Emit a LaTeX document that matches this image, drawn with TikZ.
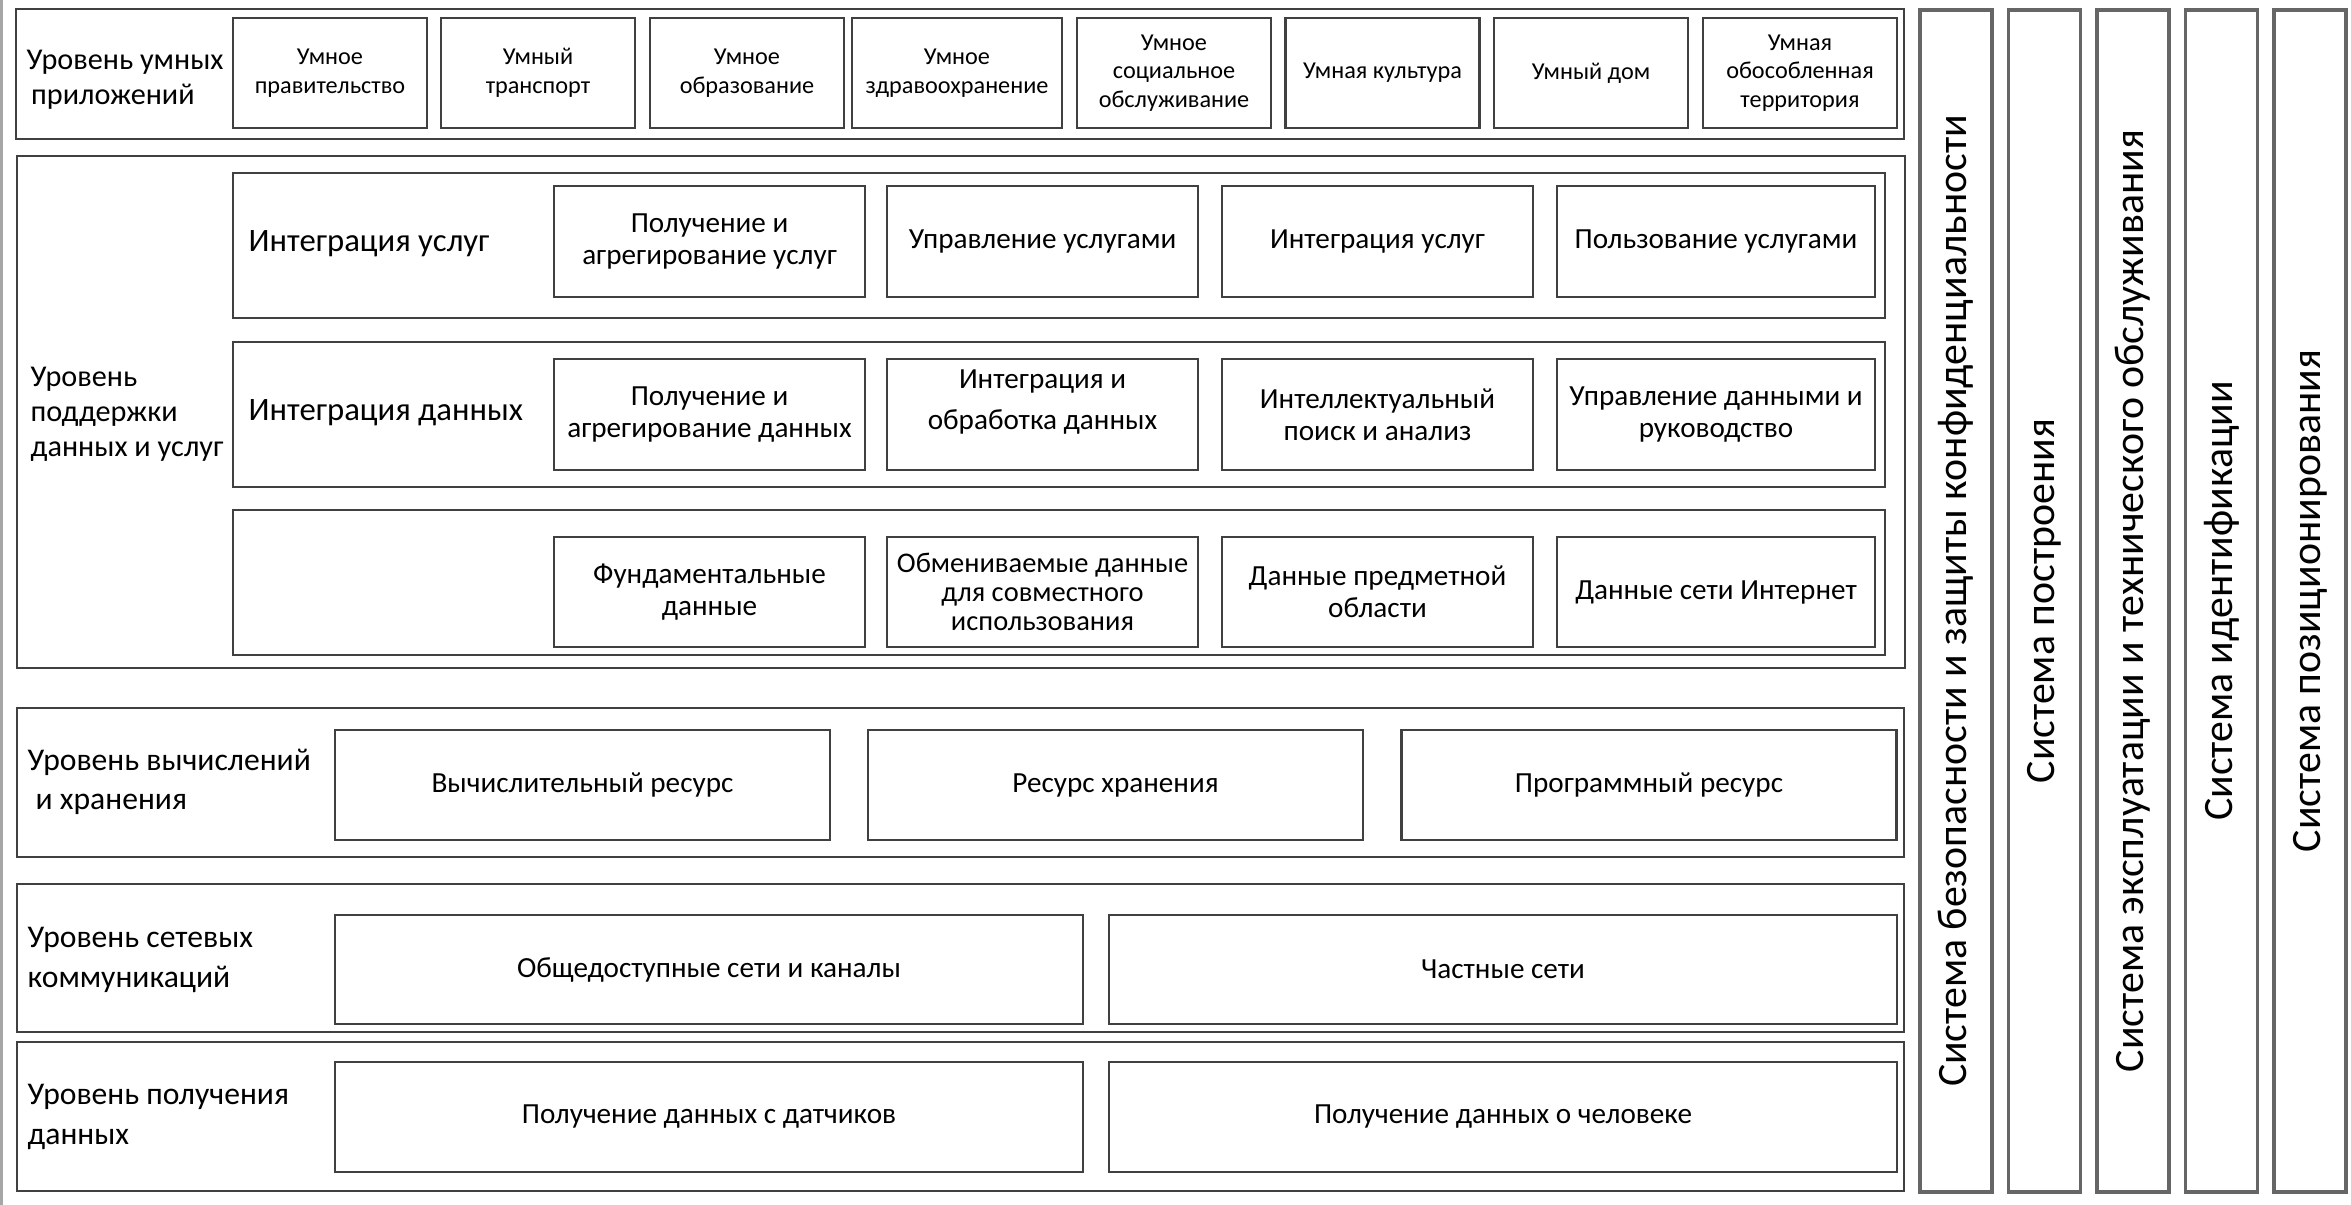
\documentclass[tikz,border=0pt]{standalone}
\usepackage{fontspec}
\setmainfont{Carlito}
\usepackage{tikz}

\begin{document}
\begin{tikzpicture}[
		layer/.style={draw=black!75, line width=0.7pt, inner sep=0pt},
		cell/.style={draw=black!75, line width=0.7pt, inner sep=0pt, align=center, font=\fontsize{8.3}{9.2}\selectfont},
		appcell/.style={cell, minimum width=1.94cm, minimum height=1.10cm, font=\fontsize{6.9}{8.1}\selectfont},
		supcell/.style={cell, minimum width=3.11cm, minimum height=1.11cm},
		lvltext/.style={anchor=west, align=left, inner sep=0pt, font=\fontsize{9}{11.3}\selectfont},
		rowtext/.style={anchor=west, inner sep=0pt, font=\fontsize{9.3}{11}\selectfont},
		sysbar/.style={draw=black!60, line width=0.9pt, inner sep=0pt, rotate=90, minimum width=11.82cm, minimum height=0.72cm, font=\fontsize{11.9}{13}\selectfont}
	]
		\useasboundingbox (0,0) rectangle (23.51,-12.05);
		\draw[gray!70, line width=0.9pt] (0.015,0) -- (0.015,-12.05);

		% smart applications
		\node[layer, minimum width=18.88cm, minimum height=1.30cm] (apps) at (9.60,-0.74) {};
		\node[lvltext, font=\fontsize{8.6}{9.9}\selectfont] (appsname) at (0.26,-0.80) {Уровень умных\\\hspace*{0.15em}приложений};
		\node[appcell] (gov) at (3.30,-0.73) {Умное\\правительство};
		\node[appcell] (transport) at (5.38,-0.73) {Умный\\транспорт};
		\node[appcell] (edu) at (7.47,-0.73) {Умное\\образование};
		\node[appcell, minimum width=2.10cm] (health) at (9.57,-0.73) {Умное\\здравоохранение};
		\node[appcell] (social) at (11.74,-0.73) {Умное\\социальное\\обслуживание};
		\node[appcell] (culture) at (13.825,-0.73) {Умная культура};
		\node[appcell] (home) at (15.91,-0.73) {Умный дом};
		\node[appcell] (area) at (18.00,-0.73) {Умная\\обособленная\\территория};

		% data and services support
		\node[layer, minimum width=18.88cm, minimum height=5.12cm] (support) at (9.61,-4.12) {};
		\node[lvltext, font=\fontsize{8.6}{10}\selectfont] (supportname) at (0.30,-4.14) {Уровень\\поддержки\\данных и услуг};

		\node[layer, minimum width=16.52cm, minimum height=1.45cm] (svcrow) at (10.59,-2.455) {};
		\node[rowtext] (svcname) at (2.48,-2.44) {Интеграция услуг};
		\node[supcell] (svcget) at (7.095,-2.415) {Получение и\\агрегирование услуг};
		\node[supcell] (svcmgmt) at (10.425,-2.415) {Управление услугами};
		\node[supcell] (svcint) at (13.775,-2.415) {Интеграция услуг};
		\node[supcell, minimum width=3.18cm] (svcuse) at (17.16,-2.415) {Пользование услугами};

		\node[layer, minimum width=16.52cm, minimum height=1.45cm] (datarow) at (10.59,-4.145) {};
		\node[rowtext] (dataname) at (2.48,-4.13) {Интеграция данных};
		\node[supcell] (dataget) at (7.095,-4.145) {Получение и\\агрегирование данных};
		\node[supcell] (dataproc) at (10.425,-4.145) {};
		\node[align=center, inner sep=0pt, font=\fontsize{8.3}{11.5}\selectfont] (dataproctext) at (10.425,-4.02) {Интеграция и\\обработка данных};
		\node[supcell] (datasearch) at (13.775,-4.145) {Интеллектуальный\\поиск и анализ};
		\node[supcell, minimum width=3.18cm] (datamgmt) at (17.16,-4.145) {Управление данными и\\руководство};

		\node[layer, minimum width=16.52cm, minimum height=1.45cm] (baserow) at (10.59,-5.825) {};
		\node[supcell, minimum height=1.10cm] (basic) at (7.095,-5.92) {Фундаментальные\\данные};
		\node[supcell, minimum height=1.10cm, font=\fontsize{8.1}{8.3}\selectfont] (shared) at (10.425,-5.92) {Обмениваемые данные\\для совместного\\использования};
		\node[supcell, minimum height=1.10cm] (domain) at (13.775,-5.92) {Данные предметной\\области};
		\node[supcell, minimum width=3.18cm, minimum height=1.10cm] (web) at (17.16,-5.92) {Данные сети Интернет};

		% computing and storage
		\node[layer, minimum width=18.87cm, minimum height=1.49cm] (compute) at (9.605,-7.825) {};
		\node[lvltext] (computename) at (0.27,-7.82) {Уровень вычислений\\\hspace*{0.25em}и хранения};
		\node[cell, minimum width=4.95cm, minimum height=1.10cm] (cpu) at (5.825,-7.85) {Вычислительный ресурс};
		\node[cell, minimum width=4.95cm, minimum height=1.10cm] (storage) at (11.155,-7.85) {Ресурс хранения};
		\node[cell, minimum width=4.95cm, minimum height=1.10cm] (software) at (16.49,-7.85) {Программный ресурс};

		% network communications
		\node[layer, minimum width=18.87cm, minimum height=1.48cm] (network) at (9.605,-9.58) {};
		\node[lvltext] (networkname) at (0.27,-9.60) {Уровень сетевых\\коммуникаций};
		\node[cell, minimum width=7.48cm, minimum height=1.09cm] (public) at (7.09,-9.695) {Общедоступные сети и каналы};
		\node[cell, minimum width=7.88cm, minimum height=1.09cm] (private) at (15.03,-9.695) {Частные сети};

		% data acquisition
		\node[layer, minimum width=18.87cm, minimum height=1.49cm] (acquire) at (9.605,-11.165) {};
		\node[lvltext] (acquirename) at (0.27,-11.17) {Уровень получения\\данных};
		\node[cell, minimum width=7.48cm, minimum height=1.10cm] (sensors) at (7.09,-11.17) {Получение данных с датчиков};
		\node[cell, minimum width=7.88cm, minimum height=1.10cm] (human) at (15.03,-11.17) {Получение данных о человеке};

		% cross-cutting systems
		\node[sysbar] (security) at (19.56,-6.01) {Система безопасности и защиты конфиденциальности};
		\node[sysbar] (build) at (20.445,-6.01) {Система построения};
		\node[sysbar] (operation) at (21.33,-6.01) {Система эксплуатации и технического обслуживания};
		\node[sysbar] (ident) at (22.215,-6.01) {Система идентификации};
		\node[sysbar] (position) at (23.10,-6.01) {Система позиционирования};
	\end{tikzpicture}
\end{document}
